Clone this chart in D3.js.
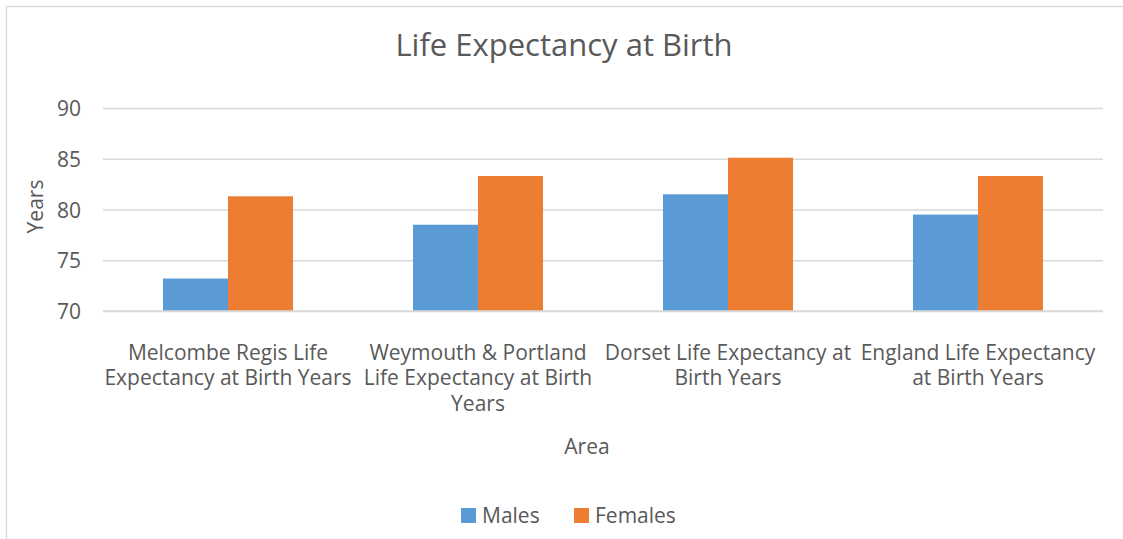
<!DOCTYPE html>
<html>
<head>
<meta charset="utf-8">
<script src="https://cdn.jsdelivr.net/npm/d3@7"></script>
<style>
  html, body { margin: 0; padding: 0; background: #fff; }
  svg text { font-family: "Open Sans", "Noto Sans", sans-serif; fill: #595959; }
</style>
</head>
<body>
<svg id="chart" width="1123" height="539"></svg>
<script>
// Life expectancy at birth, by area
const categories = [
  "Melcombe Regis Life Expectancy at Birth Years",
  "Weymouth & Portland Life Expectancy at Birth Years",
  "Dorset Life Expectancy at Birth Years",
  "England Life Expectancy at Birth Years"
];
const seriesNames = ["Males", "Females"];
const males   = [73.2, 78.5, 81.5, 79.5];
const females = [81.3, 83.3, 85.1, 83.3];
const yTicks  = [70, 75, 80, 85, 90];
const colors  = ["#5B9BD5", "#ED7D31"];

const svg = d3.select("#chart");
const W = 1123, H = 539;
const plot = { left: 103, right: 1103, top: 108, bottom: 311 };
const FS = 21;

// chart area frame
svg.append("rect")
  .attr("x", 6.5).attr("y", 6.5)
  .attr("width", W + 20).attr("height", H + 20)
  .attr("fill", "#fff").attr("stroke", "#d9d9d9").attr("stroke-width", 1.3);

const x0 = d3.scaleBand().domain(categories)
  .range([plot.left, plot.right]).paddingInner(0.48).paddingOuter(0.24);
const x1 = d3.scaleBand().domain(seriesNames).range([0, x0.bandwidth()]);
const y = d3.scaleLinear().domain([70, 90]).range([plot.bottom, plot.top]);

// gridlines + y tick labels
const yAxis = d3.axisLeft(y).tickValues(yTicks)
  .tickSize(-(plot.right - plot.left)).tickPadding(22).tickFormat(d3.format("d"));
const gy = svg.append("g").attr("transform", `translate(${plot.left},0)`).call(yAxis);
gy.select(".domain").remove();
gy.selectAll(".tick line").attr("stroke", "#d9d9d9").attr("stroke-width", 1.5);
gy.selectAll(".tick text").attr("font-size", FS).attr("fill", "#595959")
  .attr("font-family", null).attr("dy", "0.36em");

// bars
const rows = categories.map((c, i) => ({ c, vals: [males[i], females[i]] }));
const groups = svg.append("g").selectAll("g").data(rows).join("g")
  .attr("transform", d => `translate(${x0(d.c)},0)`);
groups.selectAll("rect").data(d => d.vals.map((v, j) => ({ v, s: seriesNames[j], j })))
  .join("rect")
  .attr("x", d => x1(d.s))
  .attr("y", d => y(d.v))
  .attr("width", x1.bandwidth())
  .attr("height", d => y(70) - y(d.v))
  .attr("fill", d => colors[d.j]);

// baseline drawn over the bars
svg.append("line")
  .attr("x1", plot.left).attr("x2", plot.right)
  .attr("y1", y(70)).attr("y2", y(70))
  .attr("stroke", "#d9d9d9").attr("stroke-width", 1.5);

// category labels, wrapped to the band step
const xAxis = d3.axisBottom(x0).tickSize(0).tickPadding(0);
const gx = svg.append("g").attr("transform", `translate(0,${plot.bottom})`).call(xAxis);
gx.select(".domain").remove();
const maxW = x0.step() + 2;
gx.selectAll(".tick text").each(function(label) {
  const t = d3.select(this);
  t.text(null).attr("font-size", FS).attr("fill", "#595959")
    .attr("font-family", null).attr("y", 0).attr("dy", null);
  const words = label.split(" ");
  let lines = [], line = [];
  const probe = t.append("tspan");
  words.forEach(w => {
    const test = line.concat(w).join(" ");
    probe.text(test);
    if (probe.node().getComputedTextLength() > maxW && line.length) {
      lines.push(line.join(" "));
      line = [w];
    } else line.push(w);
  });
  lines.push(line.join(" "));
  probe.remove();
  lines.forEach((l, k) => {
    t.append("tspan").attr("x", 0).attr("y", 48.5 + k * 25.5).text(l);
  });
});

// title
svg.append("text").attr("x", 564).attr("y", 56)
  .attr("text-anchor", "middle").attr("font-size", 31)
  .text("Life Expectancy at Birth");

// axis titles
svg.append("text").attr("x", 587).attr("y", 454)
  .attr("text-anchor", "middle").attr("font-size", FS).text("Area");
svg.append("text")
  .attr("transform", `translate(43,${(plot.top + plot.bottom) / 2 - 3}) rotate(-90)`)
  .attr("text-anchor", "middle").attr("font-size", FS).text("Years");

// legend
const legend = svg.append("g");
const legendItems = [{ n: seriesNames[0], x: 461 }, { n: seriesNames[1], x: 574 }];
legendItems.forEach((it, j) => {
  legend.append("rect").attr("x", it.x).attr("y", 508)
    .attr("width", 15).attr("height", 15).attr("fill", colors[j]);
  legend.append("text").attr("x", it.x + 21).attr("y", 523)
    .attr("font-size", FS).text(it.n);
});
</script>
</body>
</html>
